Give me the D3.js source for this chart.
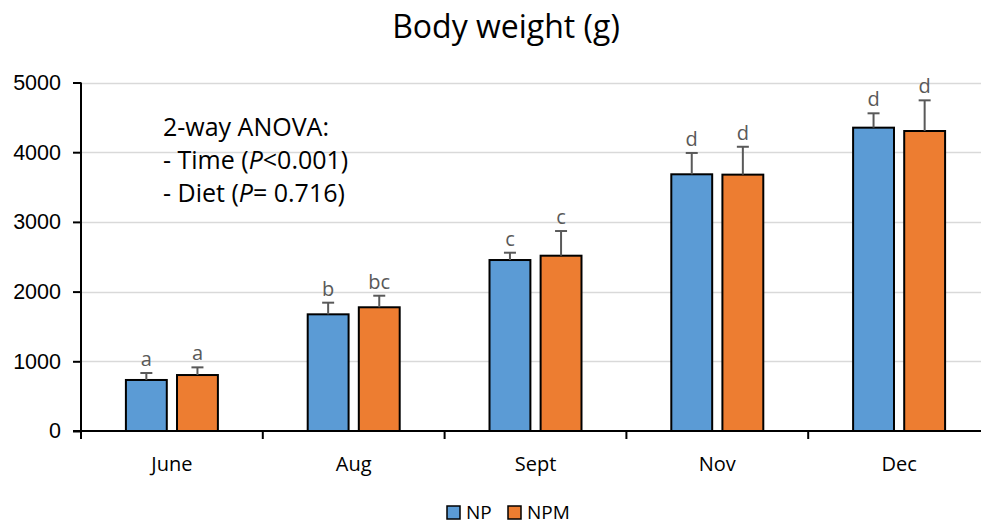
<!DOCTYPE html>
<html>
<head>
<meta charset="utf-8">
<script src="https://cdn.jsdelivr.net/npm/d3@7"></script>
<style>
  html, body { margin: 0; padding: 0; background: #fff; }
  svg { display: block; font-family: "Open Sans", "Noto Sans", sans-serif; }
</style>
</head>
<body>
<svg id="chart" width="981" height="524"></svg>
<script>
// Sampling months
const categories = ["June", "Aug", "Sept", "Nov", "Dec"];
const seriesNames = ["NP", "NPM"];
// Mean body weight (g) per month
const npValues  = [732, 1674, 2453, 3683, 4352];
const npmValues = [803, 1775, 2515, 3678, 4304];
// Upper error (SD)
const npErrors  = [100, 167, 105, 306, 206];
const npmErrors = [110, 166, 354, 400, 440];
// Significance letters
const npLetters  = ["a", "b", "c", "d", "d"];
const npmLetters = ["a", "bc", "c", "d", "d"];
const yTicks = [0, 1000, 2000, 3000, 4000, 5000];
const colors = { NP: "#5B9BD5", NPM: "#ED7D31" };

const svg = d3.select("#chart");
const plotLeft = 81, plotRight = 990, plotTop = 82.5, plotBottom = 431;

const y = d3.scaleLinear().domain([0, 5000]).range([plotBottom, plotTop]);
const x0 = d3.scaleBand().domain(categories).range([plotLeft, plotRight]).paddingInner(0.494).paddingOuter(0.247);
const x1 = d3.scaleBand().domain(seriesNames).range([0, x0.bandwidth()]).paddingInner(0.2);

const rows = categories.map((c, i) => ({
  cat: c,
  bars: [
    { s: "NP", v: npValues[i], e: npErrors[i], l: npLetters[i] },
    { s: "NPM", v: npmValues[i], e: npmErrors[i], l: npmLetters[i] }
  ]
}));

// Gridlines
svg.append("g").selectAll("line").data(yTicks.filter(d => d > 0)).join("line")
  .attr("x1", plotLeft).attr("x2", 981)
  .attr("y1", d => Math.round(y(d)) + 0.5).attr("y2", d => Math.round(y(d)) + 0.5)
  .attr("stroke", "#d9d9d9").attr("stroke-width", 1.5);

// Bars
const groups = svg.append("g").selectAll("g").data(rows).join("g")
  .attr("transform", d => `translate(${x0(d.cat)},0)`);

groups.selectAll("rect").data(d => d.bars).join("rect")
  .attr("x", d => x1(d.s)).attr("width", x1.bandwidth())
  .attr("y", d => y(d.v)).attr("height", d => y(0) - y(d.v))
  .attr("fill", d => colors[d.s]).attr("stroke", "#000").attr("stroke-width", 2);

// Error bars (upper only)
const eb = groups.selectAll("g.err").data(d => d.bars).join("g").attr("class", "err");
eb.append("line")
  .attr("x1", d => x1(d.s) + x1.bandwidth() / 2).attr("x2", d => x1(d.s) + x1.bandwidth() / 2)
  .attr("y1", d => y(d.v)).attr("y2", d => y(d.v + d.e))
  .attr("stroke", "#595959").attr("stroke-width", 2);
eb.append("line")
  .attr("x1", d => x1(d.s) + x1.bandwidth() / 2 - 6).attr("x2", d => x1(d.s) + x1.bandwidth() / 2 + 6)
  .attr("y1", d => y(d.v + d.e)).attr("y2", d => y(d.v + d.e))
  .attr("stroke", "#595959").attr("stroke-width", 2);
eb.append("text")
  .attr("x", d => x1(d.s) + x1.bandwidth() / 2).attr("y", d => y(d.v + d.e) - 7)
  .attr("text-anchor", "middle").attr("font-size", 20).attr("fill", "#595959")
  .text(d => d.l);

// Y axis
const yAxis = d3.axisLeft(y).tickValues(yTicks).tickSize(8).tickPadding(12).tickFormat(d3.format("d"));
const gy = svg.append("g").attr("transform", `translate(${plotLeft},0)`).call(yAxis);
gy.select(".domain").attr("stroke", "#000").attr("stroke-width", 2).attr("d", `M0,${plotTop}V${plotBottom}`);
gy.selectAll(".tick line").attr("stroke", "#000").attr("stroke-width", 2);
gy.selectAll(".tick text").attr("font-size", 21.5).attr("fill", "#000").attr("font-family", null);

// X axis with ticks between categories
svg.append("line").attr("x1", plotLeft - 8).attr("x2", 981).attr("y1", plotBottom).attr("y2", plotBottom)
  .attr("stroke", "#000").attr("stroke-width", 2);
const step = x0.step();
const boundaries = d3.range(categories.length).map(i => plotLeft + i * step);
svg.append("g").selectAll("line").data(boundaries).join("line")
  .attr("x1", d => d).attr("x2", d => d).attr("y1", plotBottom).attr("y2", plotBottom + 8)
  .attr("stroke", "#000").attr("stroke-width", 2);
svg.append("g").selectAll("text").data(categories).join("text")
  .attr("x", d => x0(d) + x0.bandwidth() / 2).attr("y", 471)
  .attr("text-anchor", "middle").attr("font-size", 20).attr("fill", "#000")
  .text(d => d);

// Title
svg.append("text").attr("x", 506).attr("y", 38).attr("text-anchor", "middle")
  .attr("font-size", 32).attr("fill", "#000").text("Body weight (g)");

// ANOVA annotation
const ann = svg.append("text").attr("font-size", 25).attr("fill", "#000");
ann.append("tspan").attr("x", 163).attr("y", 136).text("2-way ANOVA:");
const t2 = ann.append("tspan").attr("x", 163).attr("y", 169);
t2.append("tspan").text("- Time (");
t2.append("tspan").attr("font-style", "italic").text("P");
t2.append("tspan").text("<0.001)");
const t3 = ann.append("tspan").attr("x", 163).attr("y", 202);
t3.append("tspan").text("- Diet (");
t3.append("tspan").attr("font-style", "italic").text("P");
t3.append("tspan").text("= 0.716)");

// Legend
const legend = svg.append("g").selectAll("g").data(seriesNames).join("g")
  .attr("transform", (d, i) => `translate(${i === 0 ? 447 : 508},506)`);
legend.append("rect").attr("width", 13).attr("height", 13)
  .attr("fill", d => colors[d]).attr("stroke", "#000").attr("stroke-width", 1.5);
legend.append("text").attr("x", 19).attr("y", 13).attr("font-size", 19).attr("fill", "#000").text(d => d);
</script>
</body>
</html>
